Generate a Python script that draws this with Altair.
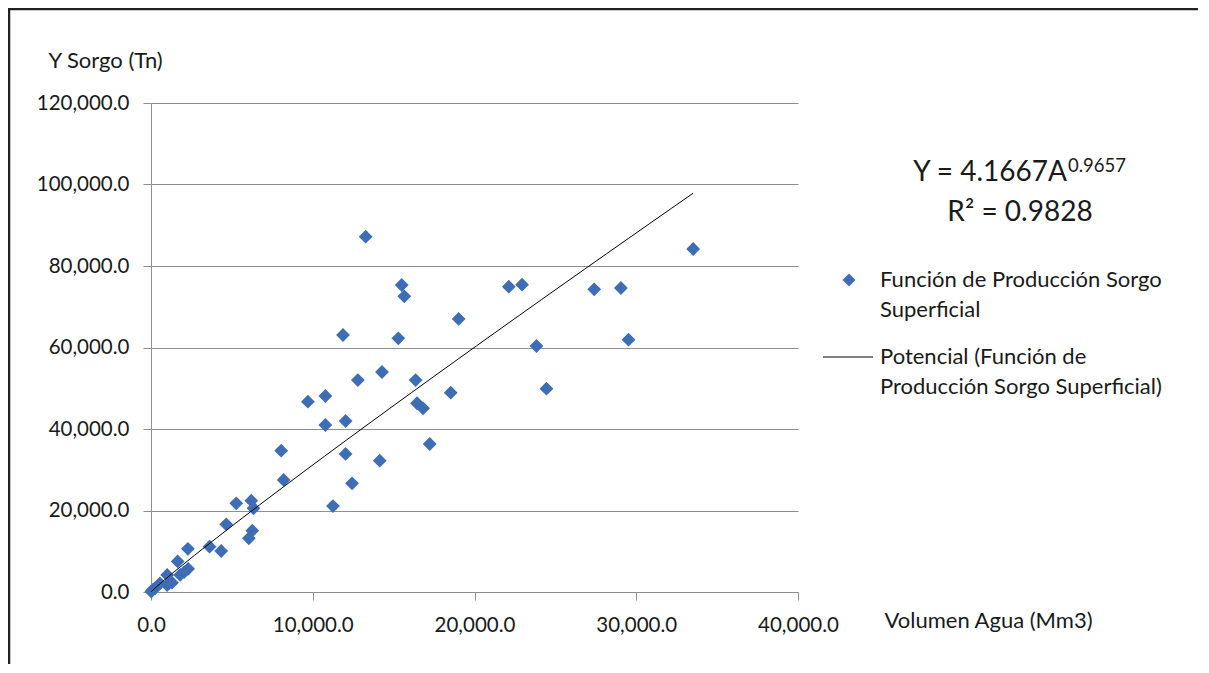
import altair as alt
import pandas as pd

# Volumen Agua (Mm3) and Y Sorgo (Tn)
vol = [33520, 22120, 22940, 27400, 29050, 19020, 23830, 29520, 18530, 24450,
       13270, 15500, 15660, 11870, 15290, 14280, 12790, 16360, 9700, 10780,
       16450, 16820, 10780, 12030, 17230, 8050, 12030, 14140, 8200, 12430,
       11250, 5270, 6200, 6340, 4650, 6260, 6050, 3620, 4340, 2280,
       1650, 2300, 1800, 2050, 1000, 1300, 1000, 550, 250, 100, 20]
yld = [84170, 74920, 75410, 74280, 74600, 67000, 60370, 61920, 48910, 49890,
       87190, 75340, 72560, 63070, 62250, 53990, 52020, 52020, 46700, 48100,
       46320, 45070, 40980, 41960, 36320, 34680, 33870, 32230, 27490, 26670,
       21100, 21770, 22400, 20540, 16610, 15040, 13180, 11120, 10060, 10600,
       7500, 5700, 4200, 4900, 4200, 2300, 1700, 2100, 900, 530, 118]

x_ticks = [0, 10000, 20000, 30000, 40000]
y_ticks = [0, 20000, 40000, 60000, 80000, 100000, 120000]
x_title = "Volumen Agua (Mm3)"
y_title = "Y Sorgo (Tn)"
legend_series = ["Función de Producción Sorgo", "Superficial"]
legend_trend = ["Potencial (Función de", "Producción Sorgo Superficial)"]
equation = "Y = 4.1667A"
exponent = "0.9657"
r2_text = "R² = 0.9828"

df = pd.DataFrame({"vol": vol, "yld": yld})
one = pd.DataFrame({"k": [0]})

FONT = "Lato"
TXT = "#1a1a1a"
BLUE = "#3D6DB5"
GRID = "#8f8f8f"
FS = 20.5
FT = 22
W, H = 647, 489

xenc = alt.X(
    "vol:Q",
    scale=alt.Scale(domain=[0, 40000], nice=False),
    axis=alt.Axis(
        values=x_ticks, format=",.1f", grid=False,
        domainColor=GRID, tickColor=GRID, tickSize=8,
        labelFont=FONT, labelFontSize=FS, labelColor=TXT, labelPadding=15,
        labelFlush=False, labelOverlap=False,
        title=x_title, titleFont=FONT, titleFontSize=FT, titleFontWeight="normal",
        titleColor=TXT, titleX=733, titleY=28, titleAlign="left",
        titleBaseline="middle", titleAngle=0,
    ),
)
yenc = alt.Y(
    "yld:Q",
    scale=alt.Scale(domain=[0, 120000], nice=False),
    axis=alt.Axis(
        values=y_ticks, format=",.1f", grid=True, gridColor=GRID,
        domainColor=GRID, tickColor=GRID, tickSize=8,
        labelFont=FONT, labelFontSize=FS, labelColor=TXT, labelPadding=14,
        labelFlush=False, labelOverlap=False,
        title=y_title, titleFont=FONT, titleFontSize=FT, titleFontWeight="normal",
        titleColor=TXT, titleX=-103, titleY=-43, titleAlign="left",
        titleBaseline="middle", titleAngle=0,
    ),
)

points = alt.Chart(df).mark_point(
    shape="diamond", filled=True, size=190, color=BLUE, opacity=1
).encode(x=xenc, y=yenc)

trend = alt.Chart(df).transform_regression(
    "vol", "yld", method="pow"
).mark_line(color="black", strokeWidth=1).encode(x="vol:Q", y="yld:Q")


def txt(s, x, y, size=FT, align="left"):
    return alt.Chart(one).mark_text(
        text=s, font=FONT, fontSize=size, color=TXT, align=align, baseline="middle"
    ).encode(x=alt.value(x), y=alt.value(y))


leg_diamond = alt.Chart(one).mark_point(
    shape="diamond", filled=True, size=170, color=BLUE, opacity=1
).encode(x=alt.value(698), y=alt.value(177))
leg_line = alt.Chart(one).mark_rule(color="black", strokeWidth=1).encode(
    x=alt.value(672), x2=alt.value(722), y=alt.value(254)
)

# outer frame (top and left edges only, as in the reference)
frame_top = alt.Chart(one).mark_rect(color="#222222").encode(
    x=alt.value(-143.25), x2=alt.value(1080), y=alt.value(-95.25), y2=alt.value(-92.75)
)
frame_left = alt.Chart(one).mark_rect(color="#222222").encode(
    x=alt.value(-143.25), x2=alt.value(-140.75), y=alt.value(-95.25), y2=alt.value(620)
)

chart = alt.layer(
    points, trend,
    leg_diamond, leg_line,
    txt(legend_series[0], 729, 177), txt(legend_series[1], 729, 207),
    txt(legend_trend[0], 729, 254), txt(legend_trend[1], 729, 284),
    txt(equation, 916, 70, size=28, align="right"),
    txt(exponent, 917, 63, size=18.5),
    txt(r2_text, 869, 110, size=28, align="center"),
    frame_top, frame_left,
).properties(
    width=W, height=H,
    autosize=alt.AutoSizeParams(type="none"),
    padding={"left": 143, "top": 95, "right": 400, "bottom": 72},
    background="white",
).configure_view(stroke=None)

chart.save("out.html", embed_options={"renderer": "svg", "actions": False})
